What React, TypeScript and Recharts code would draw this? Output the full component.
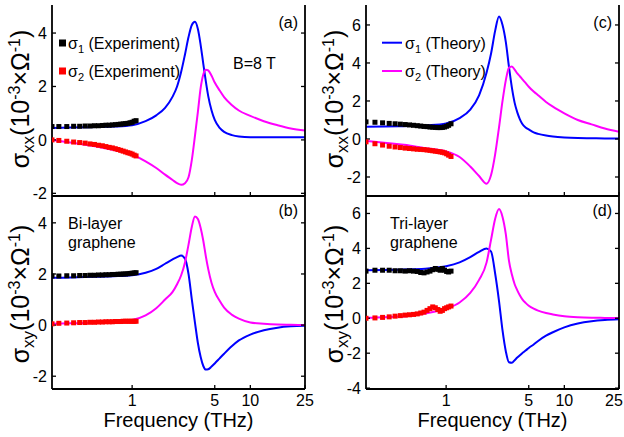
import React from 'react';
import { ComposedChart, Line, Scatter, XAxis, YAxis } from 'recharts';

// ---------- data ----------
const FREQ = [0.21, 0.3, 0.4, 0.5, 0.7, 1.0, 1.3, 1.6, 1.9, 2.2, 2.4, 2.6, 2.8, 3.0, 3.2, 3.4, 3.6, 3.8, 4.0, 4.2, 4.4, 4.7, 5.0, 5.5, 6.0, 7.0, 8.0, 10, 13, 17, 22, 29];

const A_THEORY1 = [0.45, 0.46, 0.47, 0.48, 0.5, 0.55, 0.7, 0.92, 1.2, 1.62, 2.0, 2.55, 3.2, 3.85, 4.3, 4.42, 4.15, 3.55, 2.85, 2.2, 1.65, 1.1, 0.75, 0.45, 0.3, 0.18, 0.13, 0.1, 0.1, 0.1, 0.1, 0.1];
const A_THEORY2 = [0.0, -0.1, -0.18, -0.25, -0.38, -0.55, -0.8, -1.05, -1.3, -1.5, -1.62, -1.68, -1.62, -1.4, -0.75, 0.15, 1.05, 1.95, 2.45, 2.63, 2.6, 2.4, 2.15, 1.85, 1.6, 1.3, 1.1, 0.9, 0.7, 0.55, 0.43, 0.35];
const B_THEORY1 = [1.85, 1.86, 1.88, 1.89, 1.91, 1.95, 2.05, 2.2, 2.4, 2.57, 2.66, 2.72, 2.6, 2.0, 1.0, 0.1, -0.7, -1.25, -1.6, -1.74, -1.73, -1.62, -1.5, -1.3, -1.12, -0.82, -0.6, -0.37, -0.2, -0.1, -0.05, -0.03];
const B_THEORY2 = [0.05, 0.07, 0.08, 0.1, 0.13, 0.2, 0.38, 0.66, 1.0, 1.3, 1.6, 1.95, 2.45, 3.15, 3.85, 4.25, 4.15, 3.8, 3.3, 2.7, 2.2, 1.65, 1.3, 0.95, 0.68, 0.4, 0.25, 0.1, 0.05, 0.02, 0.01, 0.0];
const C_THEORY1 = [0.65, 0.66, 0.67, 0.68, 0.72, 0.82, 1.1, 1.55, 2.3, 3.5, 4.5, 5.7, 6.45, 6.0, 5.1, 3.8, 2.7, 1.9, 1.4, 1.05, 0.8, 0.6, 0.5, 0.35, 0.27, 0.18, 0.13, 0.08, 0.05, 0.04, 0.03, 0.03];
const C_THEORY2 = [-0.1, -0.2, -0.28, -0.35, -0.5, -0.65, -0.95, -1.45, -1.95, -2.35, -1.9, -0.8, 0.6, 2.0, 3.1, 3.75, 3.82, 3.65, 3.45, 3.3, 3.15, 2.95, 2.75, 2.5, 2.3, 1.95, 1.7, 1.35, 1.0, 0.77, 0.55, 0.38];
const D_THEORY1 = [2.75, 2.76, 2.78, 2.8, 2.85, 2.98, 3.2, 3.5, 3.8, 4.0, 3.82, 2.55, 1.0, -0.7, -1.9, -2.52, -2.55, -2.4, -2.25, -2.12, -2.0, -1.85, -1.7, -1.5, -1.3, -1.0, -0.8, -0.52, -0.3, -0.17, -0.1, -0.06];
const D_THEORY2 = [0.03, 0.06, 0.1, 0.15, 0.3, 0.55, 0.9, 1.45, 2.2, 3.2, 4.5, 5.7, 6.25, 5.8, 4.8, 3.3, 2.5, 1.95, 1.6, 1.32, 1.1, 0.88, 0.72, 0.55, 0.44, 0.3, 0.22, 0.12, 0.06, 0.03, 0.02, 0.01];

const EXP_FREQ_BI = [0.21, 0.24, 0.28, 0.32, 0.36, 0.40, 0.44, 0.48, 0.52, 0.56, 0.60, 0.64, 0.68, 0.72, 0.76, 0.80, 0.84, 0.88, 0.92, 0.96, 1.00, 1.04, 1.08];
const A_EXP1 = [0.5, 0.5, 0.5, 0.51, 0.51, 0.52, 0.52, 0.53, 0.53, 0.54, 0.55, 0.55, 0.56, 0.57, 0.58, 0.59, 0.6, 0.61, 0.62, 0.64, 0.66, 0.7, 0.72];
const A_EXP2 = [0.0, -0.02, -0.05, -0.08, -0.1, -0.12, -0.15, -0.17, -0.2, -0.22, -0.25, -0.28, -0.3, -0.33, -0.36, -0.39, -0.42, -0.45, -0.48, -0.5, -0.53, -0.57, -0.6];
const B_EXP1 = [1.92, 1.92, 1.93, 1.93, 1.94, 1.94, 1.95, 1.95, 1.96, 1.96, 1.97, 1.97, 1.98, 1.98, 1.99, 1.99, 2.0, 2.0, 2.01, 2.02, 2.03, 2.04, 2.05];
const B_EXP2 = [0.05, 0.07, 0.08, 0.09, 0.1, 0.1, 0.11, 0.11, 0.12, 0.12, 0.13, 0.13, 0.13, 0.14, 0.14, 0.14, 0.15, 0.15, 0.15, 0.15, 0.15, 0.15, 0.15];

const EXP_FREQ_TRI = [0.21, 0.25, 0.29, 0.33, 0.37, 0.41, 0.45, 0.49, 0.53, 0.57, 0.61, 0.65, 0.69, 0.73, 0.77, 0.81, 0.85, 0.89, 0.93, 0.97, 1.01, 1.05, 1.1];
const C_EXP1 = [0.9, 0.88, 0.85, 0.82, 0.8, 0.78, 0.76, 0.74, 0.72, 0.7, 0.68, 0.66, 0.65, 0.63, 0.62, 0.61, 0.6, 0.6, 0.61, 0.63, 0.67, 0.72, 0.8];
const C_EXP2 = [-0.15, -0.25, -0.32, -0.38, -0.42, -0.45, -0.48, -0.5, -0.52, -0.54, -0.55, -0.56, -0.58, -0.6, -0.62, -0.64, -0.66, -0.68, -0.7, -0.73, -0.78, -0.85, -0.92];
const D_EXP1 = [2.7, 2.75, 2.75, 2.75, 2.72, 2.72, 2.7, 2.72, 2.7, 2.68, 2.62, 2.6, 2.65, 2.7, 2.78, 2.85, 2.8, 2.75, 2.85, 2.75, 2.68, 2.65, 2.7];
const D_EXP2 = [0.0, 0.02, 0.05, 0.08, 0.12, 0.15, 0.18, 0.2, 0.22, 0.25, 0.3, 0.35, 0.45, 0.55, 0.65, 0.6, 0.5, 0.4, 0.45, 0.55, 0.6, 0.65, 0.7];

const X_DOMAIN: [number, number] = [0.21, 29];
const X_TICK_VALUES = [1, 5, 10, 29];
const X_TICK_LABELS = ['1', '5', '10', '25'];

const Y_TICKS_A = [-2, 0, 2, 4];
const Y_TICKS_B = [-2, 0, 2, 4];
const Y_TICKS_C = [-2, 0, 2, 4, 6];
const Y_TICKS_D = [-4, -2, 0, 2, 4, 6];

// ---------- styling ----------
const FONT = '"Liberation Sans", Arial, Helvetica, sans-serif';
const BLUE = '#0000ff';
const MAGENTA = '#ff00ff';
const RED = '#ff0000';
const BLACK = '#000000';
const W = 624;
const H = 437;

const zip = (fs: number[], vs: number[]) => fs.map((f, i) => ({ f, v: vs[i] }));

const squareShape = (color: string) => (props: any) => {
  const { cx, cy } = props;
  if (cx == null || cy == null) return <g />;
  return <rect x={cx - 2.5} y={cy - 2.5} width={5} height={5} fill={color} />;
};

const makeXTick = (show: boolean) => (props: any) => {
  const { x, y, payload } = props;
  if (!show) return <g />;
  const idx = X_TICK_VALUES.indexOf(payload.value);
  const label = idx >= 0 ? X_TICK_LABELS[idx] : '';
  const tx = Math.min(x, W - 10);
  return (
    <text x={tx} y={y} dy="0.71em" textAnchor="middle" fontSize={16} fill={BLACK} fontFamily={FONT}>
      {label}
    </text>
  );
};

type PanelProps = {
  left: number;
  right: number;
  top: number;
  bottom: number;
  yDomain: [number, number];
  yTicks: number[];
  showXLabels: boolean;
  theory1: number[];
  theory2: number[];
  expFreq: number[];
  exp1: number[];
  exp2: number[];
};

function Panel(p: PanelProps) {
  const LW = 40;
  const RW = 10;
  const XH = 20;
  const axisStyle = { stroke: BLACK, strokeWidth: 1.8 };
  const tickStyle = { stroke: BLACK, strokeWidth: 1.3 };
  return (
    <div style={{ position: 'absolute', left: 0, top: 0 }}>
      <ComposedChart
        width={W}
        height={H}
        margin={{ top: p.top, left: p.left - LW, right: W - p.right - RW, bottom: H - p.bottom - XH }}
      >
        <XAxis
          xAxisId="b"
          dataKey="f"
          type="number"
          scale="log"
          domain={X_DOMAIN}
          allowDataOverflow
          ticks={X_TICK_VALUES}
          interval={0}
          tickSize={-4}
          tickMargin={10}
          height={XH}
          axisLine={axisStyle}
          tickLine={tickStyle}
          tick={makeXTick(p.showXLabels)}
        />
        <XAxis
          xAxisId="t"
          orientation="top"
          dataKey="f"
          type="number"
          scale="log"
          domain={X_DOMAIN}
          allowDataOverflow
          ticks={X_TICK_VALUES}
          height={0}
          axisLine={axisStyle}
          tickLine={false}
          tick={false}
        />
        <YAxis
          yAxisId="l"
          dataKey="v"
          type="number"
          domain={p.yDomain}
          allowDataOverflow
          ticks={p.yTicks}
          interval={0}
          tickSize={-4}
          tickMargin={9}
          width={LW}
          axisLine={axisStyle}
          tickLine={tickStyle}
          tick={{ fill: BLACK, fontSize: 16, fontFamily: FONT }}
        />
        <YAxis
          yAxisId="r"
          orientation="right"
          dataKey="v"
          type="number"
          domain={p.yDomain}
          allowDataOverflow
          ticks={p.yTicks}
          interval={0}
          tickSize={-4}
          width={RW}
          axisLine={axisStyle}
          tickLine={tickStyle}
          tickFormatter={() => ''}
        />
        <Line
          xAxisId="b"
          yAxisId="l"
          data={zip(FREQ, p.theory1)}
          dataKey="v"
          type="monotone"
          stroke={BLUE}
          strokeWidth={2}
          dot={false}
          isAnimationActive={false}
        />
        <Line
          xAxisId="b"
          yAxisId="l"
          data={zip(FREQ, p.theory2)}
          dataKey="v"
          type="monotone"
          stroke={MAGENTA}
          strokeWidth={2}
          dot={false}
          isAnimationActive={false}
        />
        <Scatter
          xAxisId="b"
          yAxisId="l"
          data={zip(p.expFreq, p.exp1)}
          dataKey="v"
          fill={BLACK}
          shape={squareShape(BLACK)}
          isAnimationActive={false}
        />
        <Scatter
          xAxisId="b"
          yAxisId="l"
          data={zip(p.expFreq, p.exp2)}
          dataKey="v"
          fill={RED}
          shape={squareShape(RED)}
          isAnimationActive={false}
        />
      </ComposedChart>
    </div>
  );
}

function YLabel({ x, y, sub }: { x: number; y: number; sub: string }) {
  return (
    <text transform={`translate(${x},${y}) rotate(-90)`} textAnchor="middle" fontSize={25} fill={BLACK}>
      σ<tspan fontSize={17} dy={5}>{sub}</tspan>
      <tspan dy={-5}>(10</tspan>
      <tspan fontSize={16} dy={-9}>-3</tspan>
      <tspan dy={9}>×Ω</tspan>
      <tspan fontSize={16} dy={-9}>-1</tspan>
      <tspan dy={9}>)</tspan>
    </text>
  );
}

function Sigma({ x, y, idx, rest }: { x: number; y: number; idx: string; rest: string }) {
  return (
    <text x={x} y={y} fontSize={16} fill={BLACK}>
      σ<tspan fontSize={11} dy={4}>{idx}</tspan>
      <tspan dy={-4}>{'\u00a0' + rest}</tspan>
    </text>
  );
}

function Overlay() {
  return (
    <svg width={W} height={H} style={{ position: 'absolute', left: 0, top: 0, pointerEvents: 'none' }} fontFamily={FONT}>
      {/* panel (a) */}
      <rect x={59} y={39.5} width={7} height={7} fill={BLACK} />
      <Sigma x={68} y={48.5} idx="1" rest="(Experiment)" />
      <rect x={59} y={67.5} width={7} height={7} fill={RED} />
      <Sigma x={68} y={76.5} idx="2" rest="(Experiment)" />
      <text x={233} y={69} fontSize={16} fill={BLACK}>B=8 T</text>
      <text x={298} y={27.5} fontSize={16} textAnchor="end" fill={BLACK}>(a)</text>
      {/* panel (b) */}
      <text x={298} y={215.5} fontSize={16} textAnchor="end" fill={BLACK}>(b)</text>
      <text x={68} y={229} fontSize={16} fill={BLACK}>Bi-layer</text>
      <text x={68} y={248} fontSize={16} fill={BLACK}>graphene</text>
      {/* panel (c) */}
      <line x1={382} x2={402} y1={42.7} y2={42.7} stroke={BLUE} strokeWidth={2} />
      <Sigma x={405} y={48.5} idx="1" rest="(Theory)" />
      <line x1={382} x2={402} y1={71} y2={71} stroke={MAGENTA} strokeWidth={2} />
      <Sigma x={405} y={76.5} idx="2" rest="(Theory)" />
      <text x={612} y={27.5} fontSize={16} textAnchor="end" fill={BLACK}>(c)</text>
      {/* panel (d) */}
      <text x={612} y={215.5} fontSize={16} textAnchor="end" fill={BLACK}>(d)</text>
      <text x={390} y={229} fontSize={16} fill={BLACK}>Tri-layer</text>
      <text x={390} y={248} fontSize={16} fill={BLACK}>graphene</text>
      {/* axis titles */}
      <YLabel x={29} y={99} sub="xx" />
      <YLabel x={29} y={294} sub="xy" />
      <YLabel x={343} y={99} sub="xx" />
      <YLabel x={343} y={294} sub="xy" />
      <text x={178.5} y={427} fontSize={20} textAnchor="middle" fill={BLACK}>Frequency (THz)</text>
      <text x={492.5} y={427} fontSize={20} textAnchor="middle" fill={BLACK}>Frequency (THz)</text>
    </svg>
  );
}

export default function App() {
  return (
    <div style={{ position: 'absolute', left: 0, top: 0, width: W, height: H, background: '#fff', fontFamily: FONT, overflow: 'hidden' }}>
      <Panel left={52} right={305} top={5} bottom={196} yDomain={[-2.1, 5.05]} yTicks={Y_TICKS_A} showXLabels={false}
        theory1={A_THEORY1} theory2={A_THEORY2} expFreq={EXP_FREQ_BI} exp1={A_EXP1} exp2={A_EXP2} />
      <Panel left={52} right={305} top={196} bottom={389} yDomain={[-2.5, 5.05]} yTicks={Y_TICKS_B} showXLabels={true}
        theory1={B_THEORY1} theory2={B_THEORY2} expFreq={EXP_FREQ_BI} exp1={B_EXP1} exp2={B_EXP2} />
      <Panel left={366} right={619} top={5} bottom={196} yDomain={[-3, 7.05]} yTicks={Y_TICKS_C} showXLabels={false}
        theory1={C_THEORY1} theory2={C_THEORY2} expFreq={EXP_FREQ_TRI} exp1={C_EXP1} exp2={C_EXP2} />
      <Panel left={366} right={619} top={196} bottom={389} yDomain={[-4.05, 7.0]} yTicks={Y_TICKS_D} showXLabels={true}
        theory1={D_THEORY1} theory2={D_THEORY2} expFreq={EXP_FREQ_TRI} exp1={D_EXP1} exp2={D_EXP2} />
      <Overlay />
    </div>
  );
}
